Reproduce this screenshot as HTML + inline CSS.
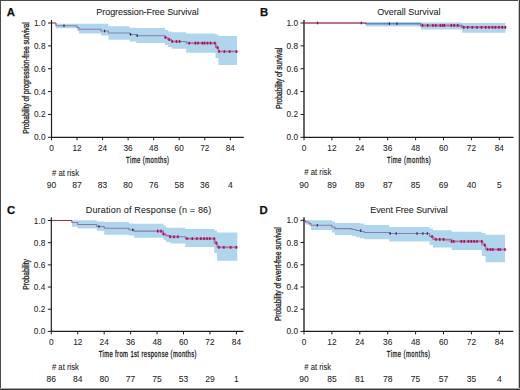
<!DOCTYPE html>
<html><head><meta charset="utf-8"><style>
html,body{margin:0;padding:0;background:#fff;}
body{width:520px;height:390px;overflow:hidden;}
svg{display:block;font-family:"Liberation Sans", sans-serif;}
</style></head><body>
<svg width="520" height="390" viewBox="0 0 520 390" font-family='"Liberation Sans", sans-serif'>
<rect x="0" y="0" width="520" height="390" fill="#fff"/>
<text x="6.7" y="16" font-size="11.3" font-weight="bold" fill="#111" stroke="#111" stroke-width="0.25">A</text>
<text transform="translate(147.5,14.6) scale(0.94,1)" x="0" y="0" font-size="9.6" text-anchor="middle" textLength="108.83" lengthAdjust="spacing" fill="#1f1f1f" stroke="#1f1f1f" stroke-width="0.08">Progression-Free Survival</text>
<path d="M51.5,23 L56,23" fill="none" stroke="#8e3a58" stroke-width="1.1"/>
<path d="M56,23 L56,25.7 L77,25.7 L77,27.5 L79,27.5 L79,29.2 L101,29.2 L101,31 L108.5,31 L108.5,33 L129.6,33 L129.6,34.5 L136.3,34.5 L136.3,35.7 L165,35.7 L165,37.5 L168,37.5 L168,39.5 L171.5,39.5 L171.5,41.5 L186.2,41.5 L186.2,43.1 L215.5,43.1 L215.5,47.5 L218.4,47.5 L218.4,51.5 L237,51.5" fill="none" stroke="#b03868" stroke-width="1.1"/>
<path d="M56,23.8 L77,23.8 L77,23.8 L79,23.8 L79,23.8 L101,23.8 L101,23.8 L108.5,23.8 L108.5,26.25 L129.6,26.25 L129.6,27.7 L136.3,27.7 L136.3,28 L165,28 L165,30 L168,30 L168,31.5 L171.5,31.5 L171.5,32.3 L186.2,32.3 L186.2,33.6 L215.5,33.6 L215.5,34.5 L218.4,34.5 L218.4,36 L237,36 L237,65.1 L218.4,65.1 L218.4,58 L215.5,58 L215.5,52.7 L186.2,52.7 L186.2,48.8 L171.5,48.8 L171.5,47 L168,47 L168,45 L165,45 L165,43 L136.3,43 L136.3,41.6 L129.6,41.6 L129.6,39.7 L108.5,39.7 L108.5,35.4 L101,35.4 L101,33.4 L79,33.4 L79,31 L77,31 L77,28.2 L56,28.2Z" fill="rgba(111,180,224,0.55)"/>
<line x1="165.4" y1="37.5" x2="169.2" y2="39.5" stroke="#d85a94" stroke-width="2" opacity="0.55"/>
<line x1="169.2" y1="39.5" x2="172.3" y2="41.5" stroke="#d85a94" stroke-width="2" opacity="0.55"/>
<line x1="172.3" y1="41.5" x2="176.5" y2="41.5" stroke="#d85a94" stroke-width="2" opacity="0.55"/>
<line x1="176.5" y1="41.5" x2="179.6" y2="41.5" stroke="#d85a94" stroke-width="2" opacity="0.55"/>
<line x1="189.2" y1="43.1" x2="195.4" y2="43.1" stroke="#d85a94" stroke-width="2" opacity="0.55"/>
<line x1="195.4" y1="43.1" x2="198" y2="43.1" stroke="#d85a94" stroke-width="2" opacity="0.55"/>
<line x1="198" y1="43.1" x2="202.4" y2="43.1" stroke="#d85a94" stroke-width="2" opacity="0.55"/>
<line x1="202.4" y1="43.1" x2="204.5" y2="43.1" stroke="#d85a94" stroke-width="2" opacity="0.55"/>
<line x1="204.5" y1="43.1" x2="207.5" y2="43.1" stroke="#d85a94" stroke-width="2" opacity="0.55"/>
<line x1="207.5" y1="43.1" x2="210.6" y2="43.1" stroke="#d85a94" stroke-width="2" opacity="0.55"/>
<line x1="210.6" y1="43.1" x2="214.9" y2="43.1" stroke="#d85a94" stroke-width="2" opacity="0.55"/>
<line x1="214.9" y1="43.1" x2="217.5" y2="47.5" stroke="#d85a94" stroke-width="2" opacity="0.55"/>
<line x1="217.5" y1="47.5" x2="219.2" y2="51.5" stroke="#d85a94" stroke-width="2" opacity="0.55"/>
<line x1="219.2" y1="51.5" x2="224.4" y2="51.5" stroke="#d85a94" stroke-width="2" opacity="0.55"/>
<line x1="224.4" y1="51.5" x2="229.6" y2="51.5" stroke="#d85a94" stroke-width="2" opacity="0.55"/>
<line x1="229.6" y1="51.5" x2="236.5" y2="51.5" stroke="#d85a94" stroke-width="2" opacity="0.55"/>
<rect x="63.4" y="24.4" width="1.2" height="2.6" fill="#3a2a55"/>
<rect x="104" y="29.7" width="1.2" height="2.6" fill="#3a2a55"/>
<rect x="130" y="33.2" width="1.2" height="2.6" fill="#3a2a55"/>
<rect x="136.7" y="34.4" width="1.2" height="2.6" fill="#3a2a55"/>
<circle cx="165.4" cy="37.5" r="1.6" fill="#d8508e" opacity="0.5"/><rect x="164.7" y="36.2" width="1.4" height="2.6" fill="#8c1a52"/>
<circle cx="169.2" cy="39.5" r="1.6" fill="#d8508e" opacity="0.5"/><rect x="168.5" y="38.2" width="1.4" height="2.6" fill="#8c1a52"/>
<circle cx="172.3" cy="41.5" r="1.6" fill="#d8508e" opacity="0.5"/><rect x="171.6" y="40.2" width="1.4" height="2.6" fill="#8c1a52"/>
<circle cx="176.5" cy="41.5" r="1.6" fill="#d8508e" opacity="0.5"/><rect x="175.8" y="40.2" width="1.4" height="2.6" fill="#8c1a52"/>
<circle cx="179.6" cy="41.5" r="1.6" fill="#d8508e" opacity="0.5"/><rect x="178.9" y="40.2" width="1.4" height="2.6" fill="#8c1a52"/>
<circle cx="189.2" cy="43.1" r="1.6" fill="#d8508e" opacity="0.5"/><rect x="188.5" y="41.8" width="1.4" height="2.6" fill="#8c1a52"/>
<circle cx="195.4" cy="43.1" r="1.6" fill="#d8508e" opacity="0.5"/><rect x="194.7" y="41.8" width="1.4" height="2.6" fill="#8c1a52"/>
<circle cx="198" cy="43.1" r="1.6" fill="#d8508e" opacity="0.5"/><rect x="197.3" y="41.8" width="1.4" height="2.6" fill="#8c1a52"/>
<circle cx="202.4" cy="43.1" r="1.6" fill="#d8508e" opacity="0.5"/><rect x="201.7" y="41.8" width="1.4" height="2.6" fill="#8c1a52"/>
<circle cx="204.5" cy="43.1" r="1.6" fill="#d8508e" opacity="0.5"/><rect x="203.8" y="41.8" width="1.4" height="2.6" fill="#8c1a52"/>
<circle cx="207.5" cy="43.1" r="1.6" fill="#d8508e" opacity="0.5"/><rect x="206.8" y="41.8" width="1.4" height="2.6" fill="#8c1a52"/>
<circle cx="210.6" cy="43.1" r="1.6" fill="#d8508e" opacity="0.5"/><rect x="209.9" y="41.8" width="1.4" height="2.6" fill="#8c1a52"/>
<circle cx="214.9" cy="43.1" r="1.6" fill="#d8508e" opacity="0.5"/><rect x="214.2" y="41.8" width="1.4" height="2.6" fill="#8c1a52"/>
<circle cx="217.5" cy="47.5" r="1.6" fill="#d8508e" opacity="0.5"/><rect x="216.8" y="46.2" width="1.4" height="2.6" fill="#8c1a52"/>
<circle cx="219.2" cy="51.5" r="1.6" fill="#d8508e" opacity="0.5"/><rect x="218.5" y="50.2" width="1.4" height="2.6" fill="#8c1a52"/>
<circle cx="224.4" cy="51.5" r="1.6" fill="#d8508e" opacity="0.5"/><rect x="223.7" y="50.2" width="1.4" height="2.6" fill="#8c1a52"/>
<circle cx="229.6" cy="51.5" r="1.6" fill="#d8508e" opacity="0.5"/><rect x="228.9" y="50.2" width="1.4" height="2.6" fill="#8c1a52"/>
<circle cx="236.5" cy="51.5" r="1.6" fill="#d8508e" opacity="0.5"/><rect x="235.8" y="50.2" width="1.4" height="2.6" fill="#8c1a52"/>
<line x1="51.5" y1="20" x2="51.5" y2="137.3" stroke="#1e1e1e" stroke-width="1.2"/>
<line x1="50.9" y1="137.3" x2="243.8" y2="137.3" stroke="#1e1e1e" stroke-width="1.2"/>
<line x1="48" y1="137.3" x2="51.5" y2="137.3" stroke="#1e1e1e" stroke-width="1"/>
<text transform="translate(45.5,140.3) scale(0.92,1)" font-size="9.0" text-anchor="end" fill="#1f1f1f" stroke="#1f1f1f" stroke-width="0.08">0.0</text>
<line x1="48" y1="114.44" x2="51.5" y2="114.44" stroke="#1e1e1e" stroke-width="1"/>
<text transform="translate(45.5,117.44) scale(0.92,1)" font-size="9.0" text-anchor="end" fill="#1f1f1f" stroke="#1f1f1f" stroke-width="0.08">0.2</text>
<line x1="48" y1="91.58" x2="51.5" y2="91.58" stroke="#1e1e1e" stroke-width="1"/>
<text transform="translate(45.5,94.58) scale(0.92,1)" font-size="9.0" text-anchor="end" fill="#1f1f1f" stroke="#1f1f1f" stroke-width="0.08">0.4</text>
<line x1="48" y1="68.72" x2="51.5" y2="68.72" stroke="#1e1e1e" stroke-width="1"/>
<text transform="translate(45.5,71.72) scale(0.92,1)" font-size="9.0" text-anchor="end" fill="#1f1f1f" stroke="#1f1f1f" stroke-width="0.08">0.6</text>
<line x1="48" y1="45.86" x2="51.5" y2="45.86" stroke="#1e1e1e" stroke-width="1"/>
<text transform="translate(45.5,48.86) scale(0.92,1)" font-size="9.0" text-anchor="end" fill="#1f1f1f" stroke="#1f1f1f" stroke-width="0.08">0.8</text>
<line x1="48" y1="23" x2="51.5" y2="23" stroke="#1e1e1e" stroke-width="1"/>
<text transform="translate(45.5,26) scale(0.92,1)" font-size="9.0" text-anchor="end" fill="#1f1f1f" stroke="#1f1f1f" stroke-width="0.08">1.0</text>
<line x1="51.5" y1="137.3" x2="51.5" y2="140.3" stroke="#1e1e1e" stroke-width="1"/>
<text transform="translate(51.5,150.5) scale(0.92,1)" font-size="9.0" text-anchor="middle" fill="#1f1f1f" stroke="#1f1f1f" stroke-width="0.08">0</text>
<line x1="77.04" y1="137.3" x2="77.04" y2="140.3" stroke="#1e1e1e" stroke-width="1"/>
<text transform="translate(77.04,150.5) scale(0.92,1)" font-size="9.0" text-anchor="middle" fill="#1f1f1f" stroke="#1f1f1f" stroke-width="0.08">12</text>
<line x1="102.58" y1="137.3" x2="102.58" y2="140.3" stroke="#1e1e1e" stroke-width="1"/>
<text transform="translate(102.58,150.5) scale(0.92,1)" font-size="9.0" text-anchor="middle" fill="#1f1f1f" stroke="#1f1f1f" stroke-width="0.08">24</text>
<line x1="128.12" y1="137.3" x2="128.12" y2="140.3" stroke="#1e1e1e" stroke-width="1"/>
<text transform="translate(128.12,150.5) scale(0.92,1)" font-size="9.0" text-anchor="middle" fill="#1f1f1f" stroke="#1f1f1f" stroke-width="0.08">36</text>
<line x1="153.66" y1="137.3" x2="153.66" y2="140.3" stroke="#1e1e1e" stroke-width="1"/>
<text transform="translate(153.66,150.5) scale(0.92,1)" font-size="9.0" text-anchor="middle" fill="#1f1f1f" stroke="#1f1f1f" stroke-width="0.08">48</text>
<line x1="179.2" y1="137.3" x2="179.2" y2="140.3" stroke="#1e1e1e" stroke-width="1"/>
<text transform="translate(179.2,150.5) scale(0.92,1)" font-size="9.0" text-anchor="middle" fill="#1f1f1f" stroke="#1f1f1f" stroke-width="0.08">60</text>
<line x1="204.74" y1="137.3" x2="204.74" y2="140.3" stroke="#1e1e1e" stroke-width="1"/>
<text transform="translate(204.74,150.5) scale(0.92,1)" font-size="9.0" text-anchor="middle" fill="#1f1f1f" stroke="#1f1f1f" stroke-width="0.08">72</text>
<line x1="230.28" y1="137.3" x2="230.28" y2="140.3" stroke="#1e1e1e" stroke-width="1"/>
<text transform="translate(230.28,150.5) scale(0.92,1)" font-size="9.0" text-anchor="middle" fill="#1f1f1f" stroke="#1f1f1f" stroke-width="0.08">84</text>
<text transform="translate(28.7,78) rotate(-90) scale(0.7,1)" x="0" y="0" font-size="9.8" text-anchor="middle" textLength="159.29" lengthAdjust="spacing" fill="#1f1f1f" stroke="#1f1f1f" stroke-width="0.3">Probability of progression-free survival</text>
<text transform="translate(147.55,163) scale(0.62,1)" x="0" y="0" font-size="9.5" text-anchor="middle" textLength="69.19" lengthAdjust="spacing" fill="#1f1f1f" stroke="#1f1f1f" stroke-width="0.35">Time (months)</text>
<text transform="translate(52,175.6) scale(0.92,1)" font-size="8.4" fill="#1f1f1f" stroke="#1f1f1f" stroke-width="0.08"># at risk</text>
<text transform="translate(51.5,187.7) scale(0.92,1)" font-size="9.3" text-anchor="middle" fill="#1f1f1f" stroke="#1f1f1f" stroke-width="0.08">90</text>
<text transform="translate(77.04,187.7) scale(0.92,1)" font-size="9.3" text-anchor="middle" fill="#1f1f1f" stroke="#1f1f1f" stroke-width="0.08">87</text>
<text transform="translate(102.58,187.7) scale(0.92,1)" font-size="9.3" text-anchor="middle" fill="#1f1f1f" stroke="#1f1f1f" stroke-width="0.08">83</text>
<text transform="translate(128.12,187.7) scale(0.92,1)" font-size="9.3" text-anchor="middle" fill="#1f1f1f" stroke="#1f1f1f" stroke-width="0.08">80</text>
<text transform="translate(153.66,187.7) scale(0.92,1)" font-size="9.3" text-anchor="middle" fill="#1f1f1f" stroke="#1f1f1f" stroke-width="0.08">76</text>
<text transform="translate(179.2,187.7) scale(0.92,1)" font-size="9.3" text-anchor="middle" fill="#1f1f1f" stroke="#1f1f1f" stroke-width="0.08">58</text>
<text transform="translate(204.74,187.7) scale(0.92,1)" font-size="9.3" text-anchor="middle" fill="#1f1f1f" stroke="#1f1f1f" stroke-width="0.08">36</text>
<text transform="translate(230.28,187.7) scale(0.92,1)" font-size="9.3" text-anchor="middle" fill="#1f1f1f" stroke="#1f1f1f" stroke-width="0.08">4</text>
<text x="259.9" y="15.9" font-size="11.3" font-weight="bold" fill="#111" stroke="#111" stroke-width="0.25">B</text>
<text transform="translate(408.8,15) scale(0.94,1)" x="0" y="0" font-size="9.6" text-anchor="middle" textLength="67.34" lengthAdjust="spacing" fill="#1f1f1f" stroke="#1f1f1f" stroke-width="0.08">Overall Survival</text>
<path d="M304,23 L366.3,23" fill="none" stroke="#a84262" stroke-width="1.5"/>
<path d="M366.3,23 L366.3,23.65 L420.8,23.65 L420.8,25.4 L461.9,25.4 L461.9,27.3 L505.5,27.3" fill="none" stroke="#50488a" stroke-width="1.5"/>
<path d="M366.3,21.9 L420.8,21.9 L420.8,22.5 L461.9,22.5 L461.9,22.9 L505.5,22.9 L505.5,32.8 L461.9,32.8 L461.9,29.4 L420.8,29.4 L420.8,26.5 L366.3,26.5Z" fill="rgba(111,180,224,0.55)"/>
<line x1="422.5" y1="25.4" x2="427.7" y2="25.4" stroke="#d85a94" stroke-width="2" opacity="0.55"/>
<line x1="427.7" y1="25.4" x2="432.9" y2="25.4" stroke="#d85a94" stroke-width="2" opacity="0.55"/>
<line x1="432.9" y1="25.4" x2="435.8" y2="25.4" stroke="#d85a94" stroke-width="2" opacity="0.55"/>
<line x1="435.8" y1="25.4" x2="440.4" y2="25.4" stroke="#d85a94" stroke-width="2" opacity="0.55"/>
<line x1="440.4" y1="25.4" x2="442.7" y2="25.4" stroke="#d85a94" stroke-width="2" opacity="0.55"/>
<line x1="442.7" y1="25.4" x2="444.4" y2="25.4" stroke="#d85a94" stroke-width="2" opacity="0.55"/>
<line x1="444.4" y1="25.4" x2="451.3" y2="25.4" stroke="#d85a94" stroke-width="2" opacity="0.55"/>
<line x1="451.3" y1="25.4" x2="454.2" y2="25.4" stroke="#d85a94" stroke-width="2" opacity="0.55"/>
<line x1="454.2" y1="25.4" x2="457.7" y2="25.4" stroke="#d85a94" stroke-width="2" opacity="0.55"/>
<line x1="457.7" y1="25.4" x2="463.7" y2="27.3" stroke="#d85a94" stroke-width="2" opacity="0.55"/>
<line x1="463.7" y1="27.3" x2="467.7" y2="27.3" stroke="#d85a94" stroke-width="2" opacity="0.55"/>
<line x1="467.7" y1="27.3" x2="472.3" y2="27.3" stroke="#d85a94" stroke-width="2" opacity="0.55"/>
<line x1="472.3" y1="27.3" x2="476.9" y2="27.3" stroke="#d85a94" stroke-width="2" opacity="0.55"/>
<line x1="476.9" y1="27.3" x2="481.5" y2="27.3" stroke="#d85a94" stroke-width="2" opacity="0.55"/>
<line x1="481.5" y1="27.3" x2="485.6" y2="27.3" stroke="#d85a94" stroke-width="2" opacity="0.55"/>
<line x1="485.6" y1="27.3" x2="489" y2="27.3" stroke="#d85a94" stroke-width="2" opacity="0.55"/>
<line x1="489" y1="27.3" x2="492.5" y2="27.3" stroke="#d85a94" stroke-width="2" opacity="0.55"/>
<line x1="492.5" y1="27.3" x2="495.4" y2="27.3" stroke="#d85a94" stroke-width="2" opacity="0.55"/>
<line x1="495.4" y1="27.3" x2="498.8" y2="27.3" stroke="#d85a94" stroke-width="2" opacity="0.55"/>
<line x1="498.8" y1="27.3" x2="502.3" y2="27.3" stroke="#d85a94" stroke-width="2" opacity="0.55"/>
<line x1="502.3" y1="27.3" x2="505.3" y2="27.3" stroke="#d85a94" stroke-width="2" opacity="0.55"/>
<rect x="316.9" y="21.7" width="1.2" height="2.6" fill="#3a2a55"/>
<rect x="360.7" y="21.7" width="1.2" height="2.6" fill="#3a2a55"/>
<rect x="388.8" y="22.35" width="1.2" height="2.6" fill="#3a2a55"/>
<rect x="396.3" y="22.35" width="1.2" height="2.6" fill="#3a2a55"/>
<circle cx="422.5" cy="25.4" r="1.6" fill="#d8508e" opacity="0.5"/><rect x="421.8" y="24.1" width="1.4" height="2.6" fill="#8c1a52"/>
<circle cx="427.7" cy="25.4" r="1.6" fill="#d8508e" opacity="0.5"/><rect x="427" y="24.1" width="1.4" height="2.6" fill="#8c1a52"/>
<circle cx="432.9" cy="25.4" r="1.6" fill="#d8508e" opacity="0.5"/><rect x="432.2" y="24.1" width="1.4" height="2.6" fill="#8c1a52"/>
<circle cx="435.8" cy="25.4" r="1.6" fill="#d8508e" opacity="0.5"/><rect x="435.1" y="24.1" width="1.4" height="2.6" fill="#8c1a52"/>
<circle cx="440.4" cy="25.4" r="1.6" fill="#d8508e" opacity="0.5"/><rect x="439.7" y="24.1" width="1.4" height="2.6" fill="#8c1a52"/>
<circle cx="442.7" cy="25.4" r="1.6" fill="#d8508e" opacity="0.5"/><rect x="442" y="24.1" width="1.4" height="2.6" fill="#8c1a52"/>
<circle cx="444.4" cy="25.4" r="1.6" fill="#d8508e" opacity="0.5"/><rect x="443.7" y="24.1" width="1.4" height="2.6" fill="#8c1a52"/>
<circle cx="451.3" cy="25.4" r="1.6" fill="#d8508e" opacity="0.5"/><rect x="450.6" y="24.1" width="1.4" height="2.6" fill="#8c1a52"/>
<circle cx="454.2" cy="25.4" r="1.6" fill="#d8508e" opacity="0.5"/><rect x="453.5" y="24.1" width="1.4" height="2.6" fill="#8c1a52"/>
<circle cx="457.7" cy="25.4" r="1.6" fill="#d8508e" opacity="0.5"/><rect x="457" y="24.1" width="1.4" height="2.6" fill="#8c1a52"/>
<circle cx="463.7" cy="27.3" r="1.6" fill="#d8508e" opacity="0.5"/><rect x="463" y="26" width="1.4" height="2.6" fill="#8c1a52"/>
<circle cx="467.7" cy="27.3" r="1.6" fill="#d8508e" opacity="0.5"/><rect x="467" y="26" width="1.4" height="2.6" fill="#8c1a52"/>
<circle cx="472.3" cy="27.3" r="1.6" fill="#d8508e" opacity="0.5"/><rect x="471.6" y="26" width="1.4" height="2.6" fill="#8c1a52"/>
<circle cx="476.9" cy="27.3" r="1.6" fill="#d8508e" opacity="0.5"/><rect x="476.2" y="26" width="1.4" height="2.6" fill="#8c1a52"/>
<circle cx="481.5" cy="27.3" r="1.6" fill="#d8508e" opacity="0.5"/><rect x="480.8" y="26" width="1.4" height="2.6" fill="#8c1a52"/>
<circle cx="485.6" cy="27.3" r="1.6" fill="#d8508e" opacity="0.5"/><rect x="484.9" y="26" width="1.4" height="2.6" fill="#8c1a52"/>
<circle cx="489" cy="27.3" r="1.6" fill="#d8508e" opacity="0.5"/><rect x="488.3" y="26" width="1.4" height="2.6" fill="#8c1a52"/>
<circle cx="492.5" cy="27.3" r="1.6" fill="#d8508e" opacity="0.5"/><rect x="491.8" y="26" width="1.4" height="2.6" fill="#8c1a52"/>
<circle cx="495.4" cy="27.3" r="1.6" fill="#d8508e" opacity="0.5"/><rect x="494.7" y="26" width="1.4" height="2.6" fill="#8c1a52"/>
<circle cx="498.8" cy="27.3" r="1.6" fill="#d8508e" opacity="0.5"/><rect x="498.1" y="26" width="1.4" height="2.6" fill="#8c1a52"/>
<circle cx="502.3" cy="27.3" r="1.6" fill="#d8508e" opacity="0.5"/><rect x="501.6" y="26" width="1.4" height="2.6" fill="#8c1a52"/>
<circle cx="505.3" cy="27.3" r="1.6" fill="#d8508e" opacity="0.5"/><rect x="504.6" y="26" width="1.4" height="2.6" fill="#8c1a52"/>
<line x1="304" y1="20" x2="304" y2="137.3" stroke="#555" stroke-width="1.8"/>
<line x1="303.4" y1="137.3" x2="513.5" y2="137.3" stroke="#1e1e1e" stroke-width="1.2"/>
<line x1="300.5" y1="137.3" x2="304" y2="137.3" stroke="#1e1e1e" stroke-width="1"/>
<text transform="translate(298,140.3) scale(0.92,1)" font-size="9.0" text-anchor="end" fill="#1f1f1f" stroke="#1f1f1f" stroke-width="0.08">0.0</text>
<line x1="300.5" y1="114.44" x2="304" y2="114.44" stroke="#1e1e1e" stroke-width="1"/>
<text transform="translate(298,117.44) scale(0.92,1)" font-size="9.0" text-anchor="end" fill="#1f1f1f" stroke="#1f1f1f" stroke-width="0.08">0.2</text>
<line x1="300.5" y1="91.58" x2="304" y2="91.58" stroke="#1e1e1e" stroke-width="1"/>
<text transform="translate(298,94.58) scale(0.92,1)" font-size="9.0" text-anchor="end" fill="#1f1f1f" stroke="#1f1f1f" stroke-width="0.08">0.4</text>
<line x1="300.5" y1="68.72" x2="304" y2="68.72" stroke="#1e1e1e" stroke-width="1"/>
<text transform="translate(298,71.72) scale(0.92,1)" font-size="9.0" text-anchor="end" fill="#1f1f1f" stroke="#1f1f1f" stroke-width="0.08">0.6</text>
<line x1="300.5" y1="45.86" x2="304" y2="45.86" stroke="#1e1e1e" stroke-width="1"/>
<text transform="translate(298,48.86) scale(0.92,1)" font-size="9.0" text-anchor="end" fill="#1f1f1f" stroke="#1f1f1f" stroke-width="0.08">0.8</text>
<line x1="300.5" y1="23" x2="304" y2="23" stroke="#1e1e1e" stroke-width="1"/>
<text transform="translate(298,26) scale(0.92,1)" font-size="9.0" text-anchor="end" fill="#1f1f1f" stroke="#1f1f1f" stroke-width="0.08">1.0</text>
<line x1="304" y1="137.3" x2="304" y2="140.3" stroke="#1e1e1e" stroke-width="1"/>
<text transform="translate(304,150.5) scale(0.92,1)" font-size="9.0" text-anchor="middle" fill="#1f1f1f" stroke="#1f1f1f" stroke-width="0.08">0</text>
<line x1="331.9" y1="137.3" x2="331.9" y2="140.3" stroke="#1e1e1e" stroke-width="1"/>
<text transform="translate(331.9,150.5) scale(0.92,1)" font-size="9.0" text-anchor="middle" fill="#1f1f1f" stroke="#1f1f1f" stroke-width="0.08">12</text>
<line x1="359.8" y1="137.3" x2="359.8" y2="140.3" stroke="#1e1e1e" stroke-width="1"/>
<text transform="translate(359.8,150.5) scale(0.92,1)" font-size="9.0" text-anchor="middle" fill="#1f1f1f" stroke="#1f1f1f" stroke-width="0.08">24</text>
<line x1="387.7" y1="137.3" x2="387.7" y2="140.3" stroke="#1e1e1e" stroke-width="1"/>
<text transform="translate(387.7,150.5) scale(0.92,1)" font-size="9.0" text-anchor="middle" fill="#1f1f1f" stroke="#1f1f1f" stroke-width="0.08">36</text>
<line x1="415.6" y1="137.3" x2="415.6" y2="140.3" stroke="#1e1e1e" stroke-width="1"/>
<text transform="translate(415.6,150.5) scale(0.92,1)" font-size="9.0" text-anchor="middle" fill="#1f1f1f" stroke="#1f1f1f" stroke-width="0.08">48</text>
<line x1="443.5" y1="137.3" x2="443.5" y2="140.3" stroke="#1e1e1e" stroke-width="1"/>
<text transform="translate(443.5,150.5) scale(0.92,1)" font-size="9.0" text-anchor="middle" fill="#1f1f1f" stroke="#1f1f1f" stroke-width="0.08">60</text>
<line x1="471.4" y1="137.3" x2="471.4" y2="140.3" stroke="#1e1e1e" stroke-width="1"/>
<text transform="translate(471.4,150.5) scale(0.92,1)" font-size="9.0" text-anchor="middle" fill="#1f1f1f" stroke="#1f1f1f" stroke-width="0.08">72</text>
<line x1="499.3" y1="137.3" x2="499.3" y2="140.3" stroke="#1e1e1e" stroke-width="1"/>
<text transform="translate(499.3,150.5) scale(0.92,1)" font-size="9.0" text-anchor="middle" fill="#1f1f1f" stroke="#1f1f1f" stroke-width="0.08">84</text>
<text transform="translate(281.6,78.3) rotate(-90) scale(0.7,1)" x="0" y="0" font-size="9.8" text-anchor="middle" textLength="87.71" lengthAdjust="spacing" fill="#1f1f1f" stroke="#1f1f1f" stroke-width="0.3">Probability of survival</text>
<text transform="translate(408.9,163) scale(0.62,1)" x="0" y="0" font-size="9.5" text-anchor="middle" textLength="70.65" lengthAdjust="spacing" fill="#1f1f1f" stroke="#1f1f1f" stroke-width="0.35">Time (months)</text>
<text transform="translate(304.3,175.4) scale(0.92,1)" font-size="8.4" fill="#1f1f1f" stroke="#1f1f1f" stroke-width="0.08"># at risk</text>
<text transform="translate(304,187.7) scale(0.92,1)" font-size="9.3" text-anchor="middle" fill="#1f1f1f" stroke="#1f1f1f" stroke-width="0.08">90</text>
<text transform="translate(331.9,187.7) scale(0.92,1)" font-size="9.3" text-anchor="middle" fill="#1f1f1f" stroke="#1f1f1f" stroke-width="0.08">89</text>
<text transform="translate(359.8,187.7) scale(0.92,1)" font-size="9.3" text-anchor="middle" fill="#1f1f1f" stroke="#1f1f1f" stroke-width="0.08">89</text>
<text transform="translate(387.7,187.7) scale(0.92,1)" font-size="9.3" text-anchor="middle" fill="#1f1f1f" stroke="#1f1f1f" stroke-width="0.08">87</text>
<text transform="translate(415.6,187.7) scale(0.92,1)" font-size="9.3" text-anchor="middle" fill="#1f1f1f" stroke="#1f1f1f" stroke-width="0.08">85</text>
<text transform="translate(443.5,187.7) scale(0.92,1)" font-size="9.3" text-anchor="middle" fill="#1f1f1f" stroke="#1f1f1f" stroke-width="0.08">69</text>
<text transform="translate(471.4,187.7) scale(0.92,1)" font-size="9.3" text-anchor="middle" fill="#1f1f1f" stroke="#1f1f1f" stroke-width="0.08">40</text>
<text transform="translate(499.3,187.7) scale(0.92,1)" font-size="9.3" text-anchor="middle" fill="#1f1f1f" stroke="#1f1f1f" stroke-width="0.08">5</text>
<text x="7" y="214.2" font-size="11.3" font-weight="bold" fill="#111" stroke="#111" stroke-width="0.25">C</text>
<text transform="translate(148.5,212.7) scale(0.94,1)" x="0" y="0" font-size="9.6" text-anchor="middle" textLength="133.62" lengthAdjust="spacing" fill="#1f1f1f" stroke="#1f1f1f" stroke-width="0.08">Duration of Response (n = 86)</text>
<path d="M51.3,220.5 L72,220.5" fill="none" stroke="#8e3a58" stroke-width="1.1"/>
<path d="M72,220.5 L72,222.5 L77.7,222.5 L77.7,224.5 L96.7,224.5 L96.7,226.5 L104.2,226.5 L104.2,228.3 L129,228.3 L129,229.8 L134,229.8 L134,231.1 L163.5,231.1 L163.5,234 L165.9,234 L165.9,235.5 L170.2,235.5 L170.2,236.8 L185.3,236.8 L185.3,238.6 L214.2,238.6 L214.2,243 L217.1,243 L217.1,247.3 L237.3,247.3" fill="none" stroke="#b03868" stroke-width="1.1"/>
<path d="M72,220.3 L77.7,220.3 L77.7,220.3 L96.7,220.3 L96.7,221.5 L104.2,221.5 L104.2,222.1 L129,222.1 L129,223.5 L134,223.5 L134,223.8 L163.5,223.8 L163.5,225.5 L165.9,225.5 L165.9,227.7 L170.2,227.7 L170.2,227.7 L185.3,227.7 L185.3,229.1 L214.2,229.1 L214.2,230.5 L217.1,230.5 L217.1,232.4 L237.3,232.4 L237.3,260.7 L217.1,260.7 L217.1,253 L214.2,253 L214.2,246.9 L185.3,246.9 L185.3,243.6 L170.2,243.6 L170.2,242 L165.9,242 L165.9,240 L163.5,240 L163.5,237.8 L134,237.8 L134,235.5 L129,235.5 L129,234.8 L104.2,234.8 L104.2,230.7 L96.7,230.7 L96.7,228.4 L77.7,228.4 L77.7,226.7 L72,226.7Z" fill="rgba(111,180,224,0.55)"/>
<line x1="157.7" y1="231.1" x2="161" y2="231.1" stroke="#d85a94" stroke-width="2" opacity="0.55"/>
<line x1="161" y1="231.1" x2="163.5" y2="234" stroke="#d85a94" stroke-width="2" opacity="0.55"/>
<line x1="163.5" y1="234" x2="170.2" y2="236.8" stroke="#d85a94" stroke-width="2" opacity="0.55"/>
<line x1="170.2" y1="236.8" x2="174" y2="236.8" stroke="#d85a94" stroke-width="2" opacity="0.55"/>
<line x1="174" y1="236.8" x2="177.9" y2="236.8" stroke="#d85a94" stroke-width="2" opacity="0.55"/>
<line x1="187" y1="238.6" x2="192.3" y2="238.6" stroke="#d85a94" stroke-width="2" opacity="0.55"/>
<line x1="192.3" y1="238.6" x2="196.9" y2="238.6" stroke="#d85a94" stroke-width="2" opacity="0.55"/>
<line x1="196.9" y1="238.6" x2="200.8" y2="238.6" stroke="#d85a94" stroke-width="2" opacity="0.55"/>
<line x1="200.8" y1="238.6" x2="204.1" y2="238.6" stroke="#d85a94" stroke-width="2" opacity="0.55"/>
<line x1="204.1" y1="238.6" x2="207" y2="238.6" stroke="#d85a94" stroke-width="2" opacity="0.55"/>
<line x1="207" y1="238.6" x2="209.9" y2="238.6" stroke="#d85a94" stroke-width="2" opacity="0.55"/>
<line x1="209.9" y1="238.6" x2="214.2" y2="238.6" stroke="#d85a94" stroke-width="2" opacity="0.55"/>
<line x1="214.2" y1="238.6" x2="216.2" y2="243" stroke="#d85a94" stroke-width="2" opacity="0.55"/>
<line x1="216.2" y1="243" x2="219" y2="247.3" stroke="#d85a94" stroke-width="2" opacity="0.55"/>
<line x1="219" y1="247.3" x2="223.8" y2="247.3" stroke="#d85a94" stroke-width="2" opacity="0.55"/>
<line x1="223.8" y1="247.3" x2="230.6" y2="247.3" stroke="#d85a94" stroke-width="2" opacity="0.55"/>
<line x1="230.6" y1="247.3" x2="236.3" y2="247.3" stroke="#d85a94" stroke-width="2" opacity="0.55"/>
<rect x="98.4" y="225.2" width="1.2" height="2.6" fill="#3a2a55"/>
<rect x="132.1" y="228.5" width="1.2" height="2.6" fill="#3a2a55"/>
<circle cx="157.7" cy="231.1" r="1.6" fill="#d8508e" opacity="0.5"/><rect x="157" y="229.8" width="1.4" height="2.6" fill="#8c1a52"/>
<circle cx="161" cy="231.1" r="1.6" fill="#d8508e" opacity="0.5"/><rect x="160.3" y="229.8" width="1.4" height="2.6" fill="#8c1a52"/>
<circle cx="163.5" cy="234" r="1.6" fill="#d8508e" opacity="0.5"/><rect x="162.8" y="232.7" width="1.4" height="2.6" fill="#8c1a52"/>
<circle cx="170.2" cy="236.8" r="1.6" fill="#d8508e" opacity="0.5"/><rect x="169.5" y="235.5" width="1.4" height="2.6" fill="#8c1a52"/>
<circle cx="174" cy="236.8" r="1.6" fill="#d8508e" opacity="0.5"/><rect x="173.3" y="235.5" width="1.4" height="2.6" fill="#8c1a52"/>
<circle cx="177.9" cy="236.8" r="1.6" fill="#d8508e" opacity="0.5"/><rect x="177.2" y="235.5" width="1.4" height="2.6" fill="#8c1a52"/>
<circle cx="187" cy="238.6" r="1.6" fill="#d8508e" opacity="0.5"/><rect x="186.3" y="237.3" width="1.4" height="2.6" fill="#8c1a52"/>
<circle cx="192.3" cy="238.6" r="1.6" fill="#d8508e" opacity="0.5"/><rect x="191.6" y="237.3" width="1.4" height="2.6" fill="#8c1a52"/>
<circle cx="196.9" cy="238.6" r="1.6" fill="#d8508e" opacity="0.5"/><rect x="196.2" y="237.3" width="1.4" height="2.6" fill="#8c1a52"/>
<circle cx="200.8" cy="238.6" r="1.6" fill="#d8508e" opacity="0.5"/><rect x="200.1" y="237.3" width="1.4" height="2.6" fill="#8c1a52"/>
<circle cx="204.1" cy="238.6" r="1.6" fill="#d8508e" opacity="0.5"/><rect x="203.4" y="237.3" width="1.4" height="2.6" fill="#8c1a52"/>
<circle cx="207" cy="238.6" r="1.6" fill="#d8508e" opacity="0.5"/><rect x="206.3" y="237.3" width="1.4" height="2.6" fill="#8c1a52"/>
<circle cx="209.9" cy="238.6" r="1.6" fill="#d8508e" opacity="0.5"/><rect x="209.2" y="237.3" width="1.4" height="2.6" fill="#8c1a52"/>
<circle cx="214.2" cy="238.6" r="1.6" fill="#d8508e" opacity="0.5"/><rect x="213.5" y="237.3" width="1.4" height="2.6" fill="#8c1a52"/>
<circle cx="216.2" cy="243" r="1.6" fill="#d8508e" opacity="0.5"/><rect x="215.5" y="241.7" width="1.4" height="2.6" fill="#8c1a52"/>
<circle cx="219" cy="247.3" r="1.6" fill="#d8508e" opacity="0.5"/><rect x="218.3" y="246" width="1.4" height="2.6" fill="#8c1a52"/>
<circle cx="223.8" cy="247.3" r="1.6" fill="#d8508e" opacity="0.5"/><rect x="223.1" y="246" width="1.4" height="2.6" fill="#8c1a52"/>
<circle cx="230.6" cy="247.3" r="1.6" fill="#d8508e" opacity="0.5"/><rect x="229.9" y="246" width="1.4" height="2.6" fill="#8c1a52"/>
<circle cx="236.3" cy="247.3" r="1.6" fill="#d8508e" opacity="0.5"/><rect x="235.6" y="246" width="1.4" height="2.6" fill="#8c1a52"/>
<line x1="51.3" y1="217.5" x2="51.3" y2="331.4" stroke="#1e1e1e" stroke-width="1.2"/>
<line x1="50.7" y1="331.4" x2="243.5" y2="331.4" stroke="#1e1e1e" stroke-width="1.2"/>
<line x1="47.8" y1="331.4" x2="51.3" y2="331.4" stroke="#1e1e1e" stroke-width="1"/>
<text transform="translate(45.3,334.4) scale(0.92,1)" font-size="9.0" text-anchor="end" fill="#1f1f1f" stroke="#1f1f1f" stroke-width="0.08">0.0</text>
<line x1="47.8" y1="309.22" x2="51.3" y2="309.22" stroke="#1e1e1e" stroke-width="1"/>
<text transform="translate(45.3,312.22) scale(0.92,1)" font-size="9.0" text-anchor="end" fill="#1f1f1f" stroke="#1f1f1f" stroke-width="0.08">0.2</text>
<line x1="47.8" y1="287.04" x2="51.3" y2="287.04" stroke="#1e1e1e" stroke-width="1"/>
<text transform="translate(45.3,290.04) scale(0.92,1)" font-size="9.0" text-anchor="end" fill="#1f1f1f" stroke="#1f1f1f" stroke-width="0.08">0.4</text>
<line x1="47.8" y1="264.86" x2="51.3" y2="264.86" stroke="#1e1e1e" stroke-width="1"/>
<text transform="translate(45.3,267.86) scale(0.92,1)" font-size="9.0" text-anchor="end" fill="#1f1f1f" stroke="#1f1f1f" stroke-width="0.08">0.6</text>
<line x1="47.8" y1="242.68" x2="51.3" y2="242.68" stroke="#1e1e1e" stroke-width="1"/>
<text transform="translate(45.3,245.68) scale(0.92,1)" font-size="9.0" text-anchor="end" fill="#1f1f1f" stroke="#1f1f1f" stroke-width="0.08">0.8</text>
<line x1="47.8" y1="220.5" x2="51.3" y2="220.5" stroke="#1e1e1e" stroke-width="1"/>
<text transform="translate(45.3,223.5) scale(0.92,1)" font-size="9.0" text-anchor="end" fill="#1f1f1f" stroke="#1f1f1f" stroke-width="0.08">1.0</text>
<line x1="51.3" y1="331.4" x2="51.3" y2="334.4" stroke="#1e1e1e" stroke-width="1"/>
<text transform="translate(51.3,344.6) scale(0.92,1)" font-size="9.0" text-anchor="middle" fill="#1f1f1f" stroke="#1f1f1f" stroke-width="0.08">0</text>
<line x1="77.74" y1="331.4" x2="77.74" y2="334.4" stroke="#1e1e1e" stroke-width="1"/>
<text transform="translate(77.74,344.6) scale(0.92,1)" font-size="9.0" text-anchor="middle" fill="#1f1f1f" stroke="#1f1f1f" stroke-width="0.08">12</text>
<line x1="104.18" y1="331.4" x2="104.18" y2="334.4" stroke="#1e1e1e" stroke-width="1"/>
<text transform="translate(104.18,344.6) scale(0.92,1)" font-size="9.0" text-anchor="middle" fill="#1f1f1f" stroke="#1f1f1f" stroke-width="0.08">24</text>
<line x1="130.62" y1="331.4" x2="130.62" y2="334.4" stroke="#1e1e1e" stroke-width="1"/>
<text transform="translate(130.62,344.6) scale(0.92,1)" font-size="9.0" text-anchor="middle" fill="#1f1f1f" stroke="#1f1f1f" stroke-width="0.08">36</text>
<line x1="157.06" y1="331.4" x2="157.06" y2="334.4" stroke="#1e1e1e" stroke-width="1"/>
<text transform="translate(157.06,344.6) scale(0.92,1)" font-size="9.0" text-anchor="middle" fill="#1f1f1f" stroke="#1f1f1f" stroke-width="0.08">48</text>
<line x1="183.5" y1="331.4" x2="183.5" y2="334.4" stroke="#1e1e1e" stroke-width="1"/>
<text transform="translate(183.5,344.6) scale(0.92,1)" font-size="9.0" text-anchor="middle" fill="#1f1f1f" stroke="#1f1f1f" stroke-width="0.08">60</text>
<line x1="209.94" y1="331.4" x2="209.94" y2="334.4" stroke="#1e1e1e" stroke-width="1"/>
<text transform="translate(209.94,344.6) scale(0.92,1)" font-size="9.0" text-anchor="middle" fill="#1f1f1f" stroke="#1f1f1f" stroke-width="0.08">72</text>
<line x1="236.38" y1="331.4" x2="236.38" y2="334.4" stroke="#1e1e1e" stroke-width="1"/>
<text transform="translate(236.38,344.6) scale(0.92,1)" font-size="9.0" text-anchor="middle" fill="#1f1f1f" stroke="#1f1f1f" stroke-width="0.08">84</text>
<text transform="translate(28.8,274.4) rotate(-90) scale(0.7,1)" x="0" y="0" font-size="9.8" text-anchor="middle" textLength="43.57" lengthAdjust="spacing" fill="#1f1f1f" stroke="#1f1f1f" stroke-width="0.3">Probability</text>
<text transform="translate(147.6,357.3) scale(0.62,1)" x="0" y="0" font-size="9.5" text-anchor="middle" textLength="157.74" lengthAdjust="spacing" fill="#1f1f1f" stroke="#1f1f1f" stroke-width="0.35">Time from 1st response (months)</text>
<text transform="translate(51.9,370) scale(0.92,1)" font-size="8.4" fill="#1f1f1f" stroke="#1f1f1f" stroke-width="0.08"># at risk</text>
<text transform="translate(51.3,381.7) scale(0.92,1)" font-size="9.3" text-anchor="middle" fill="#1f1f1f" stroke="#1f1f1f" stroke-width="0.08">86</text>
<text transform="translate(77.74,381.7) scale(0.92,1)" font-size="9.3" text-anchor="middle" fill="#1f1f1f" stroke="#1f1f1f" stroke-width="0.08">84</text>
<text transform="translate(104.18,381.7) scale(0.92,1)" font-size="9.3" text-anchor="middle" fill="#1f1f1f" stroke="#1f1f1f" stroke-width="0.08">80</text>
<text transform="translate(130.62,381.7) scale(0.92,1)" font-size="9.3" text-anchor="middle" fill="#1f1f1f" stroke="#1f1f1f" stroke-width="0.08">77</text>
<text transform="translate(157.06,381.7) scale(0.92,1)" font-size="9.3" text-anchor="middle" fill="#1f1f1f" stroke="#1f1f1f" stroke-width="0.08">75</text>
<text transform="translate(183.5,381.7) scale(0.92,1)" font-size="9.3" text-anchor="middle" fill="#1f1f1f" stroke="#1f1f1f" stroke-width="0.08">53</text>
<text transform="translate(209.94,381.7) scale(0.92,1)" font-size="9.3" text-anchor="middle" fill="#1f1f1f" stroke="#1f1f1f" stroke-width="0.08">29</text>
<text transform="translate(236.38,381.7) scale(0.92,1)" font-size="9.3" text-anchor="middle" fill="#1f1f1f" stroke="#1f1f1f" stroke-width="0.08">1</text>
<text x="259.6" y="213.9" font-size="11.3" font-weight="bold" fill="#111" stroke="#111" stroke-width="0.25">D</text>
<text transform="translate(409,212.7) scale(0.94,1)" x="0" y="0" font-size="9.6" text-anchor="middle" textLength="82.55" lengthAdjust="spacing" fill="#1f1f1f" stroke="#1f1f1f" stroke-width="0.08">Event Free Survival</text>
<path d="M304,220.3 L305.5,220.3" fill="none" stroke="#8e3a58" stroke-width="1.1"/>
<path d="M305.5,220.3 L305.5,222 L309,222 L309,223.6 L311,223.6 L311,225.3 L332,225.3 L332,227 L335,227 L335,228.65 L352,228.65 L352,229.5 L356,229.5 L356,230.5 L360,230.5 L360,231.5 L364.2,231.5 L364.2,232.5 L389.3,232.5 L389.3,233.5 L429.6,233.5 L429.6,236.5 L433,236.5 L433,239.4 L451.7,239.4 L451.7,241.4 L481.8,241.4 L481.8,245 L485.5,245 L485.5,249.5 L505,249.5" fill="none" stroke="#b03868" stroke-width="1.1"/>
<path d="M305.5,220.3 L309,220.3 L309,220.3 L311,220.3 L311,220.3 L332,220.3 L332,221.5 L335,221.5 L335,222.9 L352,222.9 L352,222.9 L356,222.9 L356,222.9 L360,222.9 L360,223.5 L364.2,223.5 L364.2,225.1 L389.3,225.1 L389.3,226.9 L429.6,226.9 L429.6,228.5 L433,228.5 L433,230.3 L451.7,230.3 L451.7,231.7 L481.8,231.7 L481.8,233 L485.5,233 L485.5,234.8 L505,234.8 L505,262.3 L485.5,262.3 L485.5,256 L481.8,256 L481.8,250 L451.7,250 L451.7,247.6 L433,247.6 L433,245 L429.6,245 L429.6,241.6 L389.3,241.6 L389.3,239.2 L364.2,239.2 L364.2,238.2 L360,238.2 L360,237.2 L356,237.2 L356,236 L352,236 L352,234.9 L335,234.9 L335,232.5 L332,232.5 L332,229.9 L311,229.9 L311,225.5 L309,225.5 L309,224.5 L305.5,224.5Z" fill="rgba(111,180,224,0.55)"/>
<line x1="432" y1="236.5" x2="435.9" y2="239.4" stroke="#d85a94" stroke-width="2" opacity="0.55"/>
<line x1="435.9" y1="239.4" x2="439.7" y2="239.4" stroke="#d85a94" stroke-width="2" opacity="0.55"/>
<line x1="439.7" y1="239.4" x2="443.6" y2="239.4" stroke="#d85a94" stroke-width="2" opacity="0.55"/>
<line x1="443.6" y1="239.4" x2="451.7" y2="241.4" stroke="#d85a94" stroke-width="2" opacity="0.55"/>
<line x1="451.7" y1="241.4" x2="453.7" y2="241.4" stroke="#d85a94" stroke-width="2" opacity="0.55"/>
<line x1="453.7" y1="241.4" x2="461.3" y2="241.4" stroke="#d85a94" stroke-width="2" opacity="0.55"/>
<line x1="461.3" y1="241.4" x2="464.2" y2="241.4" stroke="#d85a94" stroke-width="2" opacity="0.55"/>
<line x1="464.2" y1="241.4" x2="468.4" y2="241.4" stroke="#d85a94" stroke-width="2" opacity="0.55"/>
<line x1="468.4" y1="241.4" x2="471.3" y2="241.4" stroke="#d85a94" stroke-width="2" opacity="0.55"/>
<line x1="471.3" y1="241.4" x2="474.1" y2="241.4" stroke="#d85a94" stroke-width="2" opacity="0.55"/>
<line x1="474.1" y1="241.4" x2="477" y2="241.4" stroke="#d85a94" stroke-width="2" opacity="0.55"/>
<line x1="477" y1="241.4" x2="481.8" y2="241.4" stroke="#d85a94" stroke-width="2" opacity="0.55"/>
<line x1="481.8" y1="241.4" x2="484.7" y2="245" stroke="#d85a94" stroke-width="2" opacity="0.55"/>
<line x1="484.7" y1="245" x2="487.6" y2="249.5" stroke="#d85a94" stroke-width="2" opacity="0.55"/>
<line x1="487.6" y1="249.5" x2="490.5" y2="249.5" stroke="#d85a94" stroke-width="2" opacity="0.55"/>
<line x1="490.5" y1="249.5" x2="492.9" y2="249.5" stroke="#d85a94" stroke-width="2" opacity="0.55"/>
<line x1="492.9" y1="249.5" x2="498.2" y2="249.5" stroke="#d85a94" stroke-width="2" opacity="0.55"/>
<line x1="498.2" y1="249.5" x2="500.1" y2="249.5" stroke="#d85a94" stroke-width="2" opacity="0.55"/>
<line x1="500.1" y1="249.5" x2="504.9" y2="249.5" stroke="#d85a94" stroke-width="2" opacity="0.55"/>
<rect x="316.7" y="224" width="1.2" height="2.6" fill="#3a2a55"/>
<rect x="360.2" y="229.2" width="1.2" height="2.6" fill="#3a2a55"/>
<rect x="389.6" y="232.2" width="1.2" height="2.6" fill="#3a2a55"/>
<rect x="395.6" y="232.2" width="1.2" height="2.6" fill="#3a2a55"/>
<rect x="416.4" y="232.2" width="1.2" height="2.6" fill="#3a2a55"/>
<rect x="422.3" y="232.2" width="1.2" height="2.6" fill="#3a2a55"/>
<rect x="426.8" y="232.2" width="1.2" height="2.6" fill="#3a2a55"/>
<circle cx="432" cy="236.5" r="1.6" fill="#d8508e" opacity="0.5"/><rect x="431.3" y="235.2" width="1.4" height="2.6" fill="#8c1a52"/>
<circle cx="435.9" cy="239.4" r="1.6" fill="#d8508e" opacity="0.5"/><rect x="435.2" y="238.1" width="1.4" height="2.6" fill="#8c1a52"/>
<circle cx="439.7" cy="239.4" r="1.6" fill="#d8508e" opacity="0.5"/><rect x="439" y="238.1" width="1.4" height="2.6" fill="#8c1a52"/>
<circle cx="443.6" cy="239.4" r="1.6" fill="#d8508e" opacity="0.5"/><rect x="442.9" y="238.1" width="1.4" height="2.6" fill="#8c1a52"/>
<circle cx="451.7" cy="241.4" r="1.6" fill="#d8508e" opacity="0.5"/><rect x="451" y="240.1" width="1.4" height="2.6" fill="#8c1a52"/>
<circle cx="453.7" cy="241.4" r="1.6" fill="#d8508e" opacity="0.5"/><rect x="453" y="240.1" width="1.4" height="2.6" fill="#8c1a52"/>
<circle cx="461.3" cy="241.4" r="1.6" fill="#d8508e" opacity="0.5"/><rect x="460.6" y="240.1" width="1.4" height="2.6" fill="#8c1a52"/>
<circle cx="464.2" cy="241.4" r="1.6" fill="#d8508e" opacity="0.5"/><rect x="463.5" y="240.1" width="1.4" height="2.6" fill="#8c1a52"/>
<circle cx="468.4" cy="241.4" r="1.6" fill="#d8508e" opacity="0.5"/><rect x="467.7" y="240.1" width="1.4" height="2.6" fill="#8c1a52"/>
<circle cx="471.3" cy="241.4" r="1.6" fill="#d8508e" opacity="0.5"/><rect x="470.6" y="240.1" width="1.4" height="2.6" fill="#8c1a52"/>
<circle cx="474.1" cy="241.4" r="1.6" fill="#d8508e" opacity="0.5"/><rect x="473.4" y="240.1" width="1.4" height="2.6" fill="#8c1a52"/>
<circle cx="477" cy="241.4" r="1.6" fill="#d8508e" opacity="0.5"/><rect x="476.3" y="240.1" width="1.4" height="2.6" fill="#8c1a52"/>
<circle cx="481.8" cy="241.4" r="1.6" fill="#d8508e" opacity="0.5"/><rect x="481.1" y="240.1" width="1.4" height="2.6" fill="#8c1a52"/>
<circle cx="484.7" cy="245" r="1.6" fill="#d8508e" opacity="0.5"/><rect x="484" y="243.7" width="1.4" height="2.6" fill="#8c1a52"/>
<circle cx="487.6" cy="249.5" r="1.6" fill="#d8508e" opacity="0.5"/><rect x="486.9" y="248.2" width="1.4" height="2.6" fill="#8c1a52"/>
<circle cx="490.5" cy="249.5" r="1.6" fill="#d8508e" opacity="0.5"/><rect x="489.8" y="248.2" width="1.4" height="2.6" fill="#8c1a52"/>
<circle cx="492.9" cy="249.5" r="1.6" fill="#d8508e" opacity="0.5"/><rect x="492.2" y="248.2" width="1.4" height="2.6" fill="#8c1a52"/>
<circle cx="498.2" cy="249.5" r="1.6" fill="#d8508e" opacity="0.5"/><rect x="497.5" y="248.2" width="1.4" height="2.6" fill="#8c1a52"/>
<circle cx="500.1" cy="249.5" r="1.6" fill="#d8508e" opacity="0.5"/><rect x="499.4" y="248.2" width="1.4" height="2.6" fill="#8c1a52"/>
<circle cx="504.9" cy="249.5" r="1.6" fill="#d8508e" opacity="0.5"/><rect x="504.2" y="248.2" width="1.4" height="2.6" fill="#8c1a52"/>
<line x1="304" y1="217.3" x2="304" y2="331.4" stroke="#555" stroke-width="1.8"/>
<line x1="303.4" y1="331.4" x2="513.3" y2="331.4" stroke="#1e1e1e" stroke-width="1.2"/>
<line x1="300.5" y1="331.4" x2="304" y2="331.4" stroke="#1e1e1e" stroke-width="1"/>
<text transform="translate(298,334.4) scale(0.92,1)" font-size="9.0" text-anchor="end" fill="#1f1f1f" stroke="#1f1f1f" stroke-width="0.08">0.0</text>
<line x1="300.5" y1="309.18" x2="304" y2="309.18" stroke="#1e1e1e" stroke-width="1"/>
<text transform="translate(298,312.18) scale(0.92,1)" font-size="9.0" text-anchor="end" fill="#1f1f1f" stroke="#1f1f1f" stroke-width="0.08">0.2</text>
<line x1="300.5" y1="286.96" x2="304" y2="286.96" stroke="#1e1e1e" stroke-width="1"/>
<text transform="translate(298,289.96) scale(0.92,1)" font-size="9.0" text-anchor="end" fill="#1f1f1f" stroke="#1f1f1f" stroke-width="0.08">0.4</text>
<line x1="300.5" y1="264.74" x2="304" y2="264.74" stroke="#1e1e1e" stroke-width="1"/>
<text transform="translate(298,267.74) scale(0.92,1)" font-size="9.0" text-anchor="end" fill="#1f1f1f" stroke="#1f1f1f" stroke-width="0.08">0.6</text>
<line x1="300.5" y1="242.52" x2="304" y2="242.52" stroke="#1e1e1e" stroke-width="1"/>
<text transform="translate(298,245.52) scale(0.92,1)" font-size="9.0" text-anchor="end" fill="#1f1f1f" stroke="#1f1f1f" stroke-width="0.08">0.8</text>
<line x1="300.5" y1="220.3" x2="304" y2="220.3" stroke="#1e1e1e" stroke-width="1"/>
<text transform="translate(298,223.3) scale(0.92,1)" font-size="9.0" text-anchor="end" fill="#1f1f1f" stroke="#1f1f1f" stroke-width="0.08">1.0</text>
<line x1="304" y1="331.4" x2="304" y2="334.4" stroke="#1e1e1e" stroke-width="1"/>
<text transform="translate(304,344.6) scale(0.92,1)" font-size="9.0" text-anchor="middle" fill="#1f1f1f" stroke="#1f1f1f" stroke-width="0.08">0</text>
<line x1="331.9" y1="331.4" x2="331.9" y2="334.4" stroke="#1e1e1e" stroke-width="1"/>
<text transform="translate(331.9,344.6) scale(0.92,1)" font-size="9.0" text-anchor="middle" fill="#1f1f1f" stroke="#1f1f1f" stroke-width="0.08">12</text>
<line x1="359.8" y1="331.4" x2="359.8" y2="334.4" stroke="#1e1e1e" stroke-width="1"/>
<text transform="translate(359.8,344.6) scale(0.92,1)" font-size="9.0" text-anchor="middle" fill="#1f1f1f" stroke="#1f1f1f" stroke-width="0.08">24</text>
<line x1="387.7" y1="331.4" x2="387.7" y2="334.4" stroke="#1e1e1e" stroke-width="1"/>
<text transform="translate(387.7,344.6) scale(0.92,1)" font-size="9.0" text-anchor="middle" fill="#1f1f1f" stroke="#1f1f1f" stroke-width="0.08">36</text>
<line x1="415.6" y1="331.4" x2="415.6" y2="334.4" stroke="#1e1e1e" stroke-width="1"/>
<text transform="translate(415.6,344.6) scale(0.92,1)" font-size="9.0" text-anchor="middle" fill="#1f1f1f" stroke="#1f1f1f" stroke-width="0.08">48</text>
<line x1="443.5" y1="331.4" x2="443.5" y2="334.4" stroke="#1e1e1e" stroke-width="1"/>
<text transform="translate(443.5,344.6) scale(0.92,1)" font-size="9.0" text-anchor="middle" fill="#1f1f1f" stroke="#1f1f1f" stroke-width="0.08">60</text>
<line x1="471.4" y1="331.4" x2="471.4" y2="334.4" stroke="#1e1e1e" stroke-width="1"/>
<text transform="translate(471.4,344.6) scale(0.92,1)" font-size="9.0" text-anchor="middle" fill="#1f1f1f" stroke="#1f1f1f" stroke-width="0.08">72</text>
<line x1="499.3" y1="331.4" x2="499.3" y2="334.4" stroke="#1e1e1e" stroke-width="1"/>
<text transform="translate(499.3,344.6) scale(0.92,1)" font-size="9.0" text-anchor="middle" fill="#1f1f1f" stroke="#1f1f1f" stroke-width="0.08">84</text>
<text transform="translate(280.8,274.2) rotate(-90) scale(0.7,1)" x="0" y="0" font-size="9.8" text-anchor="middle" textLength="134" lengthAdjust="spacing" fill="#1f1f1f" stroke="#1f1f1f" stroke-width="0.3">Probability of event-free survival</text>
<text transform="translate(408.4,357.3) scale(0.62,1)" x="0" y="0" font-size="9.5" text-anchor="middle" textLength="69.68" lengthAdjust="spacing" fill="#1f1f1f" stroke="#1f1f1f" stroke-width="0.35">Time (months)</text>
<text transform="translate(304.2,370) scale(0.92,1)" font-size="8.4" fill="#1f1f1f" stroke="#1f1f1f" stroke-width="0.08"># at risk</text>
<text transform="translate(304,381.7) scale(0.92,1)" font-size="9.3" text-anchor="middle" fill="#1f1f1f" stroke="#1f1f1f" stroke-width="0.08">90</text>
<text transform="translate(331.9,381.7) scale(0.92,1)" font-size="9.3" text-anchor="middle" fill="#1f1f1f" stroke="#1f1f1f" stroke-width="0.08">85</text>
<text transform="translate(359.8,381.7) scale(0.92,1)" font-size="9.3" text-anchor="middle" fill="#1f1f1f" stroke="#1f1f1f" stroke-width="0.08">81</text>
<text transform="translate(387.7,381.7) scale(0.92,1)" font-size="9.3" text-anchor="middle" fill="#1f1f1f" stroke="#1f1f1f" stroke-width="0.08">78</text>
<text transform="translate(415.6,381.7) scale(0.92,1)" font-size="9.3" text-anchor="middle" fill="#1f1f1f" stroke="#1f1f1f" stroke-width="0.08">75</text>
<text transform="translate(443.5,381.7) scale(0.92,1)" font-size="9.3" text-anchor="middle" fill="#1f1f1f" stroke="#1f1f1f" stroke-width="0.08">57</text>
<text transform="translate(471.4,381.7) scale(0.92,1)" font-size="9.3" text-anchor="middle" fill="#1f1f1f" stroke="#1f1f1f" stroke-width="0.08">35</text>
<text transform="translate(499.3,381.7) scale(0.92,1)" font-size="9.3" text-anchor="middle" fill="#1f1f1f" stroke="#1f1f1f" stroke-width="0.08">4</text>
<rect x="0" y="0" width="520" height="1" fill="#4a4a4a"/>
<rect x="0" y="0" width="1" height="390" fill="#4a4a4a"/>
<rect x="518" y="0" width="1" height="390" fill="#c8c8c8"/>
<rect x="519" y="0" width="1" height="390" fill="#3c3c3c"/>
<rect x="0" y="388" width="520" height="1" fill="#a8a8a8"/>
<rect x="0" y="389" width="520" height="1" fill="#333"/>
</svg>
</body></html>
